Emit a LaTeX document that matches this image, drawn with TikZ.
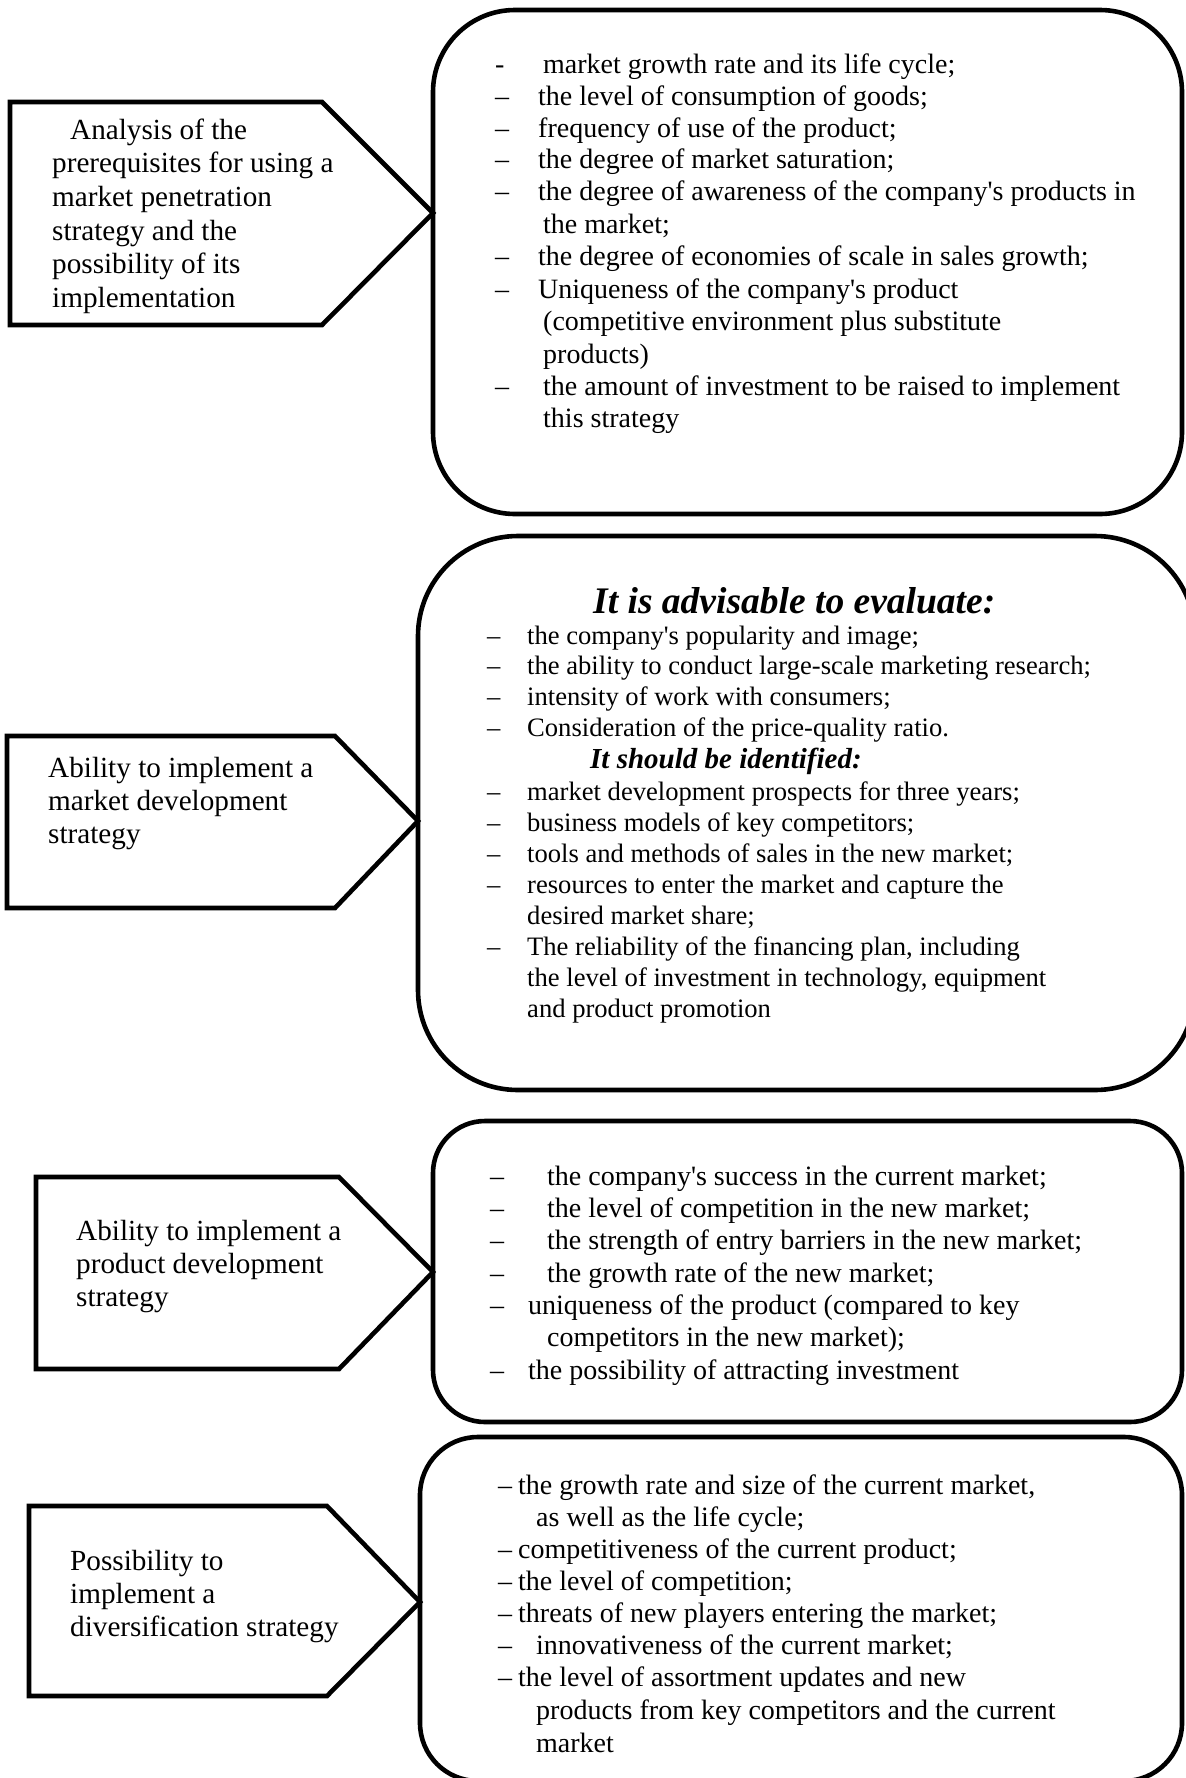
\documentclass[tikz,border=0pt]{standalone}
\usepackage{fontspec}
\newfontfamily\tnr{Liberation Serif}
% one line of text: name, mark x, text x, baseline y, mark, text
\newcommand\putline[6]{%
  \node[anchor=base west, inner sep=0pt] (#1) at (#2,#4)
    {\makebox[\dimexpr #3pt-#2pt\relax][l]{#5}#6};}
\begin{document}
\begin{tikzpicture}[x=1pt, y=-1pt,
  frame/.style={line width=4.6pt, line join=miter},
  lefttext/.style={font=\tnr\fontsize{29.2}{32}\selectfont},
  bodytext/.style={font=\tnr\fontsize{28}{32}\selectfont},
  smalltext/.style={font=\tnr\fontsize{26.6}{30}\selectfont},
  headbig/.style={font=\tnr\bfseries\itshape\fontsize{37.5}{40}\selectfont},
  headsmall/.style={font=\tnr\bfseries\itshape\fontsize{29}{32}\selectfont}]
\useasboundingbox (0,0) rectangle (1186,1778);

% pointer shapes on the left
\draw[frame] (10,102) -- (322,102) -- (433,213) -- (322,325) -- (10,325) -- cycle;
\draw[frame] (7,736) -- (335,736) -- (418,821) -- (335,908) -- (7,908) -- cycle;
\draw[frame] (36,1177) -- (339,1177) -- (433,1272) -- (339,1369) -- (36,1369) -- cycle;
\draw[frame] (29,1506) -- (327,1506) -- (420,1602) -- (327,1696) -- (29,1696) -- cycle;

% rounded frames on the right
\draw[frame, rounded corners=82pt] (433,10) rectangle (1182,514);
\draw[frame, rounded corners=100pt] (418,536) rectangle (1195,1090);
\draw[frame, rounded corners=52pt] (433,1121) rectangle (1182,1422);
\draw[frame, rounded corners=58pt] (420,1437) rectangle (1182,1781);

% labels of the pointer shapes
\begin{scope}[every node/.style={lefttext}]
\putline{la1}{70}{70}{139}{}{Analysis of the}
\putline{la2}{52}{52}{172.5}{}{prerequisites for using a}
\putline{la3}{52}{52}{206}{}{market penetration}
\putline{la4}{52}{52}{240}{}{strategy and the}
\putline{la5}{52}{52}{273.5}{}{possibility of its}
\putline{la6}{52}{52}{307}{}{implementation}
\putline{lb1}{48}{48}{777}{}{Ability to implement a}
\putline{lb2}{48}{48}{810}{}{market development}
\putline{lb3}{48}{48}{843}{}{strategy}
\putline{lc1}{76}{76}{1240}{}{Ability to implement a}
\putline{lc2}{76}{76}{1273}{}{product development}
\putline{lc3}{76}{76}{1306}{}{strategy}
\putline{ld1}{70}{70}{1570}{}{Possibility to}
\putline{ld2}{70}{70}{1603}{}{implement a}
\putline{ld3}{70}{70}{1636}{}{diversification strategy}
\end{scope}

% market penetration
\begin{scope}[every node/.style={bodytext}]
\putline{a1}{495}{543}{73}{-}{market growth rate and its life cycle;}
\putline{a2}{495}{538}{105}{–}{the level of consumption of goods;}
\putline{a3}{495}{538}{137}{–}{frequency of use of the product;}
\putline{a4}{495}{538}{168.5}{–}{the degree of market saturation;}
\putline{a5}{495}{538}{200.5}{–}{the degree of awareness of the company's products in}
\putline{a6}{543}{543}{233}{}{the market;}
\putline{a7}{495}{538}{265.5}{–}{the degree of economies of scale in sales growth;}
\putline{a8}{495}{538}{298}{–}{Uniqueness of the company's product}
\putline{a9}{543}{543}{330}{}{(competitive environment plus substitute}
\putline{a10}{543}{543}{363}{}{products)}
\putline{a11}{495}{543}{395}{–}{the amount of investment to be raised to implement}
\putline{a12}{543}{543}{427}{}{this strategy}
\end{scope}

% market development
\node[headbig, anchor=base west, inner sep=0pt] (h1) at (593,613) {It is advisable to evaluate:};
\node[headsmall, anchor=base west, inner sep=0pt] (h2) at (590,768) {It should be identified:};
\begin{scope}[every node/.style={smalltext}]
\putline{b1}{487}{527}{644}{–}{the company's popularity and image;}
\putline{b2}{487}{527}{674}{–}{the ability to conduct large-scale marketing research;}
\putline{b3}{487}{527}{705}{–}{intensity of work with consumers;}
\putline{b4}{487}{527}{736}{–}{Consideration of the price-quality ratio.}
\putline{b5}{487}{527}{800}{–}{market development prospects for three years;}
\putline{b6}{487}{527}{831}{–}{business models of key competitors;}
\putline{b7}{487}{527}{862}{–}{tools and methods of sales in the new market;}
\putline{b8}{487}{527}{893}{–}{resources to enter the market and capture the}
\putline{b9}{527}{527}{924}{}{desired market share;}
\putline{b10}{487}{527}{955}{–}{The reliability of the financing plan, including}
\putline{b11}{527}{527}{986}{}{the level of investment in technology, equipment}
\putline{b12}{527}{527}{1017}{}{and product promotion}
\end{scope}

% product development
\begin{scope}[every node/.style={bodytext}]
\putline{c1}{490}{547}{1185}{–}{the company's success in the current market;}
\putline{c2}{490}{547}{1217}{–}{the level of competition in the new market;}
\putline{c3}{490}{547}{1249}{–}{the strength of entry barriers in the new market;}
\putline{c4}{490}{547}{1282}{–}{the growth rate of the new market;}
\putline{c5}{490}{528}{1314}{–}{uniqueness of the product (compared to key}
\putline{c6}{547}{547}{1346}{}{competitors in the new market);}
\putline{c7}{490}{528}{1379}{–}{the possibility of attracting investment}
\end{scope}

% diversification
\begin{scope}[every node/.style={bodytext}]
\putline{d1}{498}{518}{1494}{–}{the growth rate and size of the current market,}
\putline{d2}{536}{536}{1526}{}{as well as the life cycle;}
\putline{d3}{498}{518}{1558}{–}{competitiveness of the current product;}
\putline{d4}{498}{518}{1590}{–}{the level of competition;}
\putline{d5}{498}{518}{1622}{–}{threats of new players entering the market;}
\putline{d6}{498}{536}{1654}{–}{innovativeness of the current market;}
\putline{d7}{498}{518}{1686}{–}{the level of assortment updates and new}
\putline{d8}{536}{536}{1719}{}{products from key competitors and the current}
\putline{d9}{536}{536}{1752}{}{market}
\end{scope}
\end{tikzpicture}
\end{document}
